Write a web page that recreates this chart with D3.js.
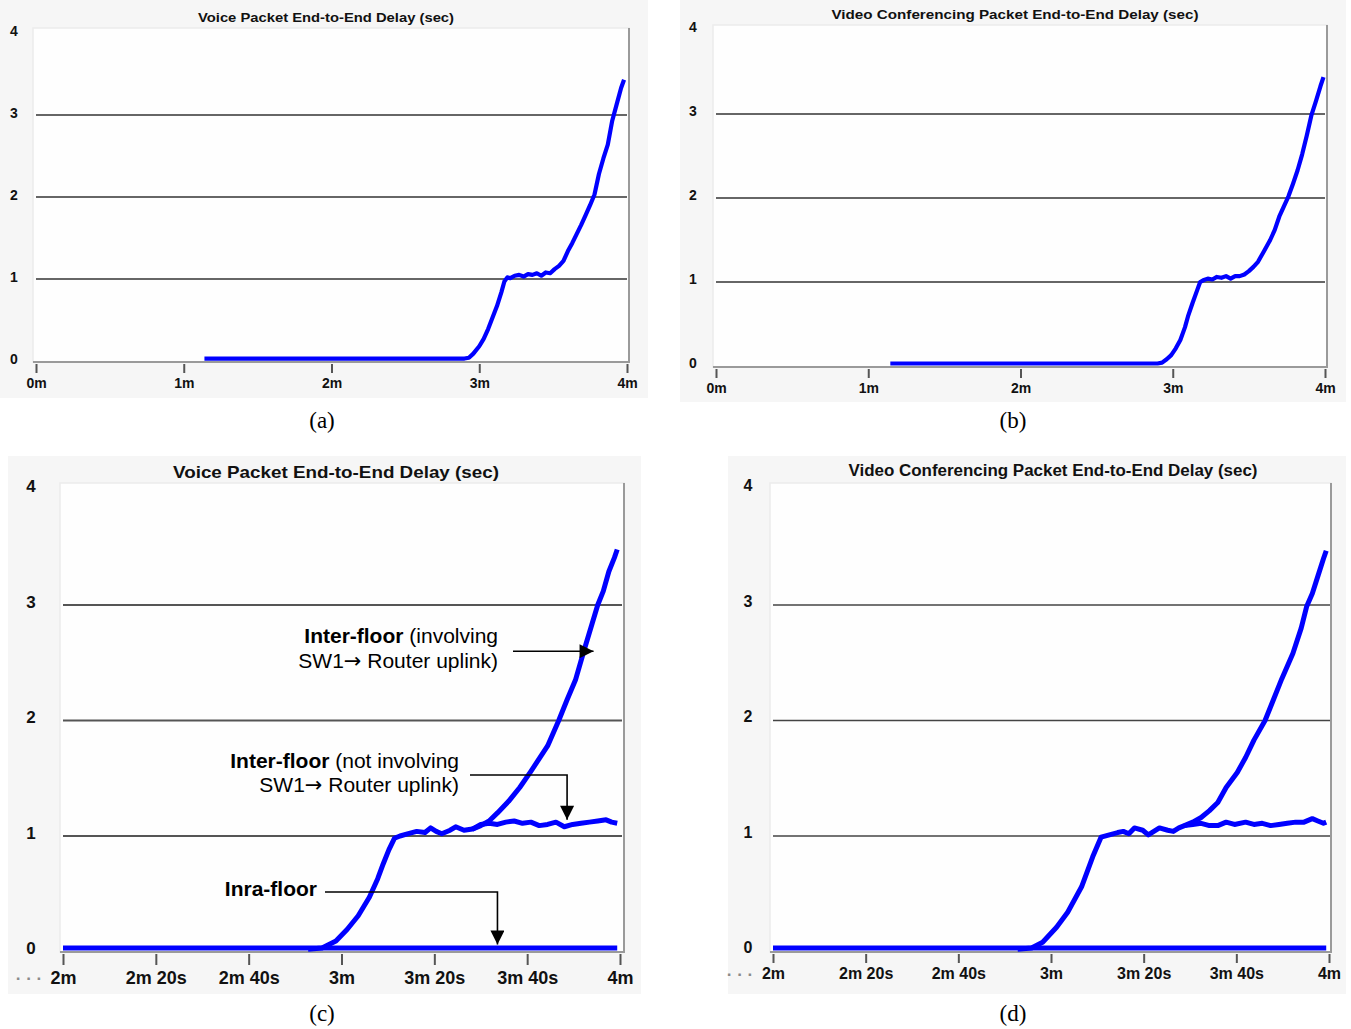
<!DOCTYPE html>
<html>
<head>
<meta charset="utf-8">
<script src="https://cdn.jsdelivr.net/npm/d3@7"></script>
<style>
  html, body { margin: 0; padding: 0; background: #ffffff; }
  svg { display: block; }
</style>
</head>
<body>
<svg id="fig" width="1351" height="1029"></svg>
<script>
// ---- Data (time in minutes, delay in seconds) ----
const yTickValues = [0, 1, 2, 3, 4];
const gridValues = [1, 2, 3];

const fullTickValues = [0, 1, 2, 3, 4];
const fullTickLabels = ["0m", "1m", "2m", "3m", "4m"];
const zoomTickValues = [2, 2 + 1/3, 2 + 2/3, 3, 3 + 1/3, 3 + 2/3, 4];
const zoomTickLabels = ["2m", "2m 20s", "2m 40s", "3m", "3m 20s", "3m 40s", "4m"];

// (a) voice, whole run
const voiceTime = [1.14, 1.5, 2.0, 2.5, 2.9, 2.93, 2.96, 3.0, 3.03, 3.06, 3.09, 3.12, 3.15, 3.17, 3.19, 3.21, 3.24, 3.27, 3.30, 3.33, 3.36, 3.39, 3.42, 3.45, 3.48, 3.51, 3.54, 3.57, 3.6, 3.63, 3.66, 3.69, 3.72, 3.75, 3.78, 3.81, 3.84, 3.87, 3.9, 3.93, 3.96, 3.98];
const voiceDelay = [0.03, 0.03, 0.03, 0.03, 0.03, 0.04, 0.09, 0.18, 0.27, 0.39, 0.53, 0.67, 0.84, 0.97, 1.02, 1.01, 1.04, 1.05, 1.03, 1.06, 1.05, 1.07, 1.04, 1.08, 1.07, 1.12, 1.16, 1.22, 1.34, 1.44, 1.55, 1.66, 1.78, 1.9, 2.03, 2.28, 2.47, 2.64, 2.93, 3.13, 3.33, 3.43];

// (b) video conferencing, whole run
const videoTime = [1.145, 1.5, 2.0, 2.5, 2.9, 2.93, 2.96, 2.99, 3.02, 3.05, 3.08, 3.1, 3.13, 3.16, 3.18, 3.2, 3.23, 3.26, 3.29, 3.32, 3.35, 3.38, 3.41, 3.44, 3.47, 3.5, 3.53, 3.56, 3.6, 3.64, 3.67, 3.7, 3.73, 3.76, 3.79, 3.82, 3.85, 3.88, 3.91, 3.94, 3.97, 3.99];
const videoDelay = [0.03, 0.03, 0.03, 0.03, 0.03, 0.04, 0.08, 0.13, 0.21, 0.31, 0.46, 0.59, 0.75, 0.9, 1.0, 1.02, 1.04, 1.03, 1.06, 1.05, 1.07, 1.04, 1.07, 1.07, 1.09, 1.13, 1.18, 1.24, 1.37, 1.5, 1.62, 1.78, 1.9, 2.02, 2.17, 2.33, 2.52, 2.74, 2.98, 3.15, 3.33, 3.44];

// (c) voice, per path type
const voiceIntraTime = [2.0, 2.5, 3.0, 3.5, 3.99];
const voiceIntraDelay = [0.03, 0.03, 0.03, 0.03, 0.03];
const voiceInterTime = [2.88, 2.93, 2.98, 3.02, 3.06, 3.1, 3.13, 3.15, 3.17, 3.19, 3.21, 3.24, 3.27, 3.3, 3.32, 3.34, 3.36, 3.39, 3.41, 3.44, 3.47, 3.5, 3.53, 3.56, 3.59, 3.62, 3.65, 3.68, 3.71, 3.74, 3.77, 3.8, 3.83, 3.86, 3.89, 3.92, 3.95, 3.97, 3.99];
const voiceInterDelay = [0.02, 0.03, 0.09, 0.19, 0.31, 0.47, 0.63, 0.76, 0.88, 0.98, 1.0, 1.02, 1.04, 1.03, 1.07, 1.04, 1.02, 1.05, 1.08, 1.05, 1.06, 1.1, 1.11, 1.1, 1.12, 1.13, 1.11, 1.12, 1.09, 1.1, 1.12, 1.08, 1.1, 1.11, 1.12, 1.13, 1.14, 1.12, 1.11];
const voiceUplinkTime = [3.47, 3.5, 3.53, 3.56, 3.6, 3.64, 3.68, 3.71, 3.74, 3.78, 3.81, 3.84, 3.87, 3.9, 3.92, 3.94, 3.96, 3.98, 3.99];
const voiceUplinkDelay = [1.06, 1.09, 1.13, 1.2, 1.3, 1.42, 1.56, 1.67, 1.78, 2.0, 2.18, 2.35, 2.6, 2.84, 3.0, 3.12, 3.29, 3.41, 3.48];

// (d) video conferencing, per path type
const videoIntraTime = [2.0, 2.5, 3.0, 3.5, 3.99];
const videoIntraDelay = [0.03, 0.03, 0.03, 0.03, 0.03];
const videoInterTime = [2.88, 2.93, 2.97, 3.02, 3.06, 3.11, 3.15, 3.18, 3.21, 3.24, 3.26, 3.28, 3.3, 3.33, 3.35, 3.37, 3.39, 3.42, 3.44, 3.46, 3.48, 3.51, 3.54, 3.57, 3.6, 3.63, 3.66, 3.7, 3.73, 3.76, 3.79, 3.82, 3.85, 3.88, 3.91, 3.94, 3.96, 3.98, 3.99];
const videoInterDelay = [0.02, 0.03, 0.08, 0.21, 0.34, 0.56, 0.82, 0.99, 1.01, 1.03, 1.04, 1.02, 1.07, 1.05, 1.01, 1.04, 1.07, 1.05, 1.04, 1.07, 1.09, 1.1, 1.11, 1.09, 1.09, 1.12, 1.1, 1.12, 1.1, 1.11, 1.09, 1.1, 1.11, 1.12, 1.12, 1.15, 1.13, 1.11, 1.12];
const videoUplinkTime = [3.48, 3.51, 3.54, 3.57, 3.6, 3.63, 3.67, 3.7, 3.73, 3.77, 3.8, 3.83, 3.87, 3.9, 3.92, 3.94, 3.96, 3.98, 3.99];
const videoUplinkDelay = [1.09, 1.12, 1.16, 1.22, 1.29, 1.42, 1.55, 1.68, 1.83, 2.0, 2.18, 2.36, 2.58, 2.8, 2.99, 3.1, 3.25, 3.4, 3.47];

const voiceTitle = "Voice Packet End-to-End Delay (sec)";
const videoTitle = "Video Conferencing Packet End-to-End Delay (sec)";

const zip = (t, v) => t.map((d, i) => ({ t: d, v: v[i] }));

const SANS = "Arial, 'Liberation Sans', sans-serif";
const SERIF = "'Liberation Serif', 'Times New Roman', serif";

// ---- Panel layouts ----
const panels = [
  { id: "a", title: voiceTitle, caption: "(a)",
    bg: [0, 0, 648, 398], frame: [33, 28, 629, 362],
    xDomain: [0, 4], xRange: [36, 627], yRange: [361, 33],
    tickValues: fullTickValues, tickLabels: fullTickLabels,
    titleX: 326, titleY: 22, titleSize: 13.5, titleLen: 256,
    yLabelX: 14, yLabelSize: 14, yLabelShift: -2, xLabelSize: 14, tickLen: 9, tickPad: 5,
    gridStart: 36, gridEnd: 627, gridColor: "#333", gridWidth: 1.4,
    captionX: 322, captionY: 428, lineWidth: 4.2,
    series: [zip(voiceTime, voiceDelay)], dots: false },
  { id: "b", title: videoTitle, caption: "(b)",
    bg: [680, 0, 1346, 402], frame: [713, 25, 1327, 367],
    xDomain: [0, 4], xRange: [716, 1325], yRange: [366, 30],
    tickValues: fullTickValues, tickLabels: fullTickLabels,
    titleX: 1015, titleY: 19, titleSize: 13.5, titleLen: 367,
    yLabelX: 693, yLabelSize: 14, yLabelShift: -3, xLabelSize: 14, tickLen: 9, tickPad: 5,
    gridStart: 716, gridEnd: 1325, gridColor: "#333", gridWidth: 1.4,
    captionX: 1013, captionY: 428, lineWidth: 4.2,
    series: [zip(videoTime, videoDelay)], dots: false },
  { id: "c", title: voiceTitle, caption: "(c)",
    bg: [8, 456, 641, 994], frame: [60, 483, 624, 952],
    xDomain: [2, 4], xRange: [63, 620], yRange: [951.5, 489.5],
    tickValues: zoomTickValues, tickLabels: zoomTickLabels,
    titleX: 336, titleY: 478, titleSize: 17, titleLen: 326,
    yLabelX: 31, yLabelSize: 17, yLabelShift: -3, xLabelSize: 18, tickLen: 11, tickPad: 6,
    gridStart: 63, gridEnd: 622, gridColor: "#555", gridWidth: 2,
    captionX: 322, captionY: 1021, lineWidth: 5,
    series: [zip(voiceIntraTime, voiceIntraDelay), zip(voiceInterTime, voiceInterDelay), zip(voiceUplinkTime, voiceUplinkDelay)],
    dots: true, dotsX: 29 },
  { id: "d", title: videoTitle, caption: "(d)",
    bg: [728, 456, 1346, 994], frame: [770, 483, 1331, 952],
    xDomain: [2, 4], xRange: [773, 1329], yRange: [951.5, 489.5],
    tickValues: zoomTickValues, tickLabels: zoomTickLabels,
    titleX: 1053, titleY: 476, titleSize: 16, titleLen: 409,
    yLabelX: 748, yLabelSize: 16, yLabelShift: -4, xLabelSize: 16, tickLen: 9, tickPad: 5,
    gridStart: 773, gridEnd: 1330, gridColor: "#444", gridWidth: 1.6,
    captionX: 1013, captionY: 1021, lineWidth: 5,
    series: [zip(videoIntraTime, videoIntraDelay), zip(videoInterTime, videoInterDelay), zip(videoUplinkTime, videoUplinkDelay)],
    dots: true, dotsX: 740 }
];

const svg = d3.select("#fig");

function drawPanel(p) {
  const g = svg.append("g").attr("class", "panel-" + p.id);
  const x = d3.scaleLinear().domain(p.xDomain).range(p.xRange);
  const y = d3.scaleLinear().domain([0, 4]).range(p.yRange);
  const [fx0, fy0, fx1, fy1] = p.frame;

  // light grey canvas behind the chart
  g.append("rect")
    .attr("x", p.bg[0]).attr("y", p.bg[1])
    .attr("width", p.bg[2] - p.bg[0]).attr("height", p.bg[3] - p.bg[1])
    .attr("fill", "#f6f6f6");

  // plotting area
  g.append("rect")
    .attr("x", fx0).attr("y", fy0)
    .attr("width", fx1 - fx0).attr("height", fy1 - fy0)
    .attr("fill", "#fefefe").attr("stroke", "#ececec").attr("stroke-width", 1.5);
  // darker right and bottom edges
  g.append("path")
    .attr("d", `M${fx1},${fy0}V${fy1}H${fx0}`)
    .attr("fill", "none").attr("stroke", "#9a9a9a").attr("stroke-width", 2);

  // title
  g.append("text")
    .attr("x", p.titleX).attr("y", p.titleY)
    .attr("text-anchor", "middle")
    .style("font-family", SANS).attr("fill", "#111")
    .attr("font-weight", "bold").attr("font-size", p.titleSize)
    .attr("textLength", p.titleLen).attr("lengthAdjust", "spacingAndGlyphs")
    .text(p.title);

  // horizontal gridlines
  g.selectAll("line.grid").data(gridValues).join("line")
    .attr("class", "grid")
    .attr("x1", p.gridStart).attr("x2", p.gridEnd)
    .attr("y1", d => y(d)).attr("y2", d => y(d))
    .attr("stroke", p.gridColor).attr("stroke-width", p.gridWidth);

  // y axis labels (far left, no axis line)
  const yAxis = d3.axisLeft(y).tickValues(yTickValues).tickSize(0).tickFormat(d3.format("d"));
  const ya = g.append("g").attr("transform", `translate(${p.yLabelX},${p.yLabelShift})`).call(yAxis);
  ya.select(".domain").remove();
  ya.selectAll("text")
    .attr("x", 0).attr("text-anchor", "middle")
    .attr("font-size", p.yLabelSize).attr("font-weight", "bold")
    .style("font-family", SANS).attr("fill", "#111");

  // x axis ticks and labels
  const xAxis = d3.axisBottom(x).tickValues(p.tickValues)
    .tickFormat((d, i) => p.tickLabels[i]).tickSize(p.tickLen).tickPadding(p.tickPad);
  const xa = g.append("g").attr("transform", `translate(0,${fy1 + 2})`).call(xAxis);
  xa.select(".domain").remove();
  xa.selectAll(".tick line").attr("stroke", "#555").attr("stroke-width", 2);
  xa.selectAll("text")
    .attr("font-size", p.xLabelSize).attr("font-weight", "bold")
    .style("font-family", SANS).attr("fill", "#111");

  if (p.dots) {
    g.append("text")
      .attr("x", p.dotsX).attr("y", fy1 + 2 + p.tickLen + p.tickPad + p.xLabelSize * 0.72)
      .attr("text-anchor", "middle").attr("font-size", 17).attr("font-weight", "bold")
      .attr("fill", "#8a8a8a")
      .style("font-family", SANS)
      .text("\u00b7 \u00b7 \u00b7");
  }

  // delay curves
  const line = d3.line().x(d => x(d.t)).y(d => y(d.v)).curve(d3.curveLinear);
  g.selectAll("path.series").data(p.series).join("path")
    .attr("class", "series")
    .attr("d", line)
    .attr("fill", "none").attr("stroke", "#0000ff")
    .attr("stroke-width", p.lineWidth)
    .attr("stroke-linejoin", "round").attr("stroke-linecap", "butt");

  // sub-figure caption
  svg.append("text")
    .attr("x", p.captionX).attr("y", p.captionY)
    .attr("text-anchor", "middle")
    .style("font-family", SERIF).attr("fill", "#000")
    .attr("font-size", 23)
    .text(p.caption);

  return { g, x, y };
}

const drawn = panels.map(drawPanel);

// ---- Annotations on panel (c) ----
const c = drawn[2];
const ann = c.g.append("g").attr("class", "annotations");

svg.append("defs").append("marker")
  .attr("id", "arrowhead").attr("viewBox", "0 0 10 10")
  .attr("refX", 10).attr("refY", 5)
  .attr("markerWidth", 16).attr("markerHeight", 14)
  .attr("markerUnits", "userSpaceOnUse")
  .attr("orient", "auto")
  .append("path").attr("d", "M0,0L10,5L0,10Z").attr("fill", "#000");

// text line made of [content, bold?, fontFamily] pieces, right-aligned at xr
function label(xr, yb, pieces, size) {
  const t = ann.append("text")
    .attr("x", xr).attr("y", yb).attr("text-anchor", "end")
    .attr("font-size", size).attr("fill", "#000")
    .style("font-family", SANS);
  pieces.forEach(([s, bold, fam]) => {
    const ts = t.append("tspan").text(s);
    if (bold) ts.attr("font-weight", "bold");
    if (fam) ts.style("font-family", fam);
  });
}
const ARROW_FONT = "'DejaVu Sans', sans-serif";

// Inter-floor path using the SW1 -> Router uplink
label(498, 643, [["Inter-floor", true], [" (involving", false]], 21);
label(498, 668, [["SW1", false], ["\u2192", false, ARROW_FONT], [" Router uplink)", false]], 21);
ann.append("path")
  .attr("d", `M513,${c.y(2.6)}H${c.x(3.905)}`)
  .attr("stroke", "#000").attr("stroke-width", 1.6).attr("fill", "none")
  .attr("marker-end", "url(#arrowhead)");

// Inter-floor path not using the uplink
label(459, 768, [["Inter-floor", true], [" (not involving", false]], 21);
label(459, 792, [["SW1", false], ["\u2192", false, ARROW_FONT], [" Router uplink)", false]], 21);
ann.append("path")
  .attr("d", `M470,775H${c.x(3.81)}V${c.y(1.14)}`)
  .attr("stroke", "#000").attr("stroke-width", 1.6).attr("fill", "none")
  .attr("marker-end", "url(#arrowhead)");

// Intra-floor path
label(317, 896, [["Inra-floor", true]], 21);
ann.append("path")
  .attr("d", `M325,892H${c.x(3.56)}V${c.y(0.06)}`)
  .attr("stroke", "#000").attr("stroke-width", 1.6).attr("fill", "none")
  .attr("marker-end", "url(#arrowhead)");
</script>
</body>
</html>
